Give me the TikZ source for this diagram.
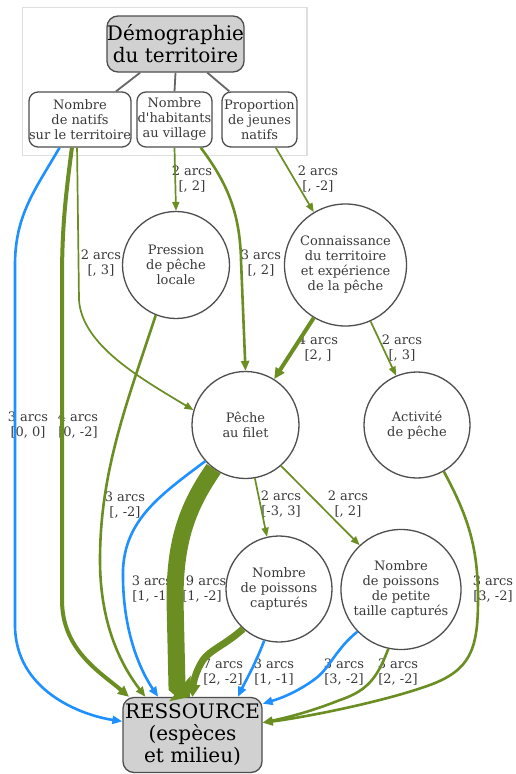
\documentclass[tikz,border=0pt]{standalone}
\usepackage{fontspec}
\setmainfont{DejaVu Serif}[Ligatures=TeXOff]
\usetikzlibrary{arrows.meta}
\definecolor{gr}{HTML}{6B8E23}
\definecolor{bl}{HTML}{1E90FF}
\definecolor{txt}{HTML}{3A3A3A}
\tikzset{
  small/.style={font=\fontsize{13}{15}\selectfont},
  big/.style={font=\fontsize{20}{22}\selectfont},
  rbox/.style={draw=txt!90, line width=1.3pt, rounded corners=9pt, align=center, inner sep=0pt, text=txt, small},
  gbox/.style={draw=txt!90, line width=1.3pt, rounded corners=11pt, align=center, inner sep=0pt, fill=black!18, text=black, big},
  circ/.style={circle, draw=txt!90, line width=1.3pt, align=center, inner sep=0pt, text=txt, small},
  lbl/.style={align=center, inner sep=0pt, text=txt, small},
  link/.style={draw=black!60, line width=1.8pt},
  e2/.style={line width=1.7pt, -{Triangle[length=9pt,width=7pt]}},
  e3/.style={line width=2.6pt, -{Triangle[length=10pt,width=8pt]}},
  e4/.style={line width=4pt, -{Triangle[length=11pt,width=10pt]}},
  e7/.style={line width=7pt, -{Triangle[length=12pt,width=14pt]}},
  e19/.style={line width=17pt, -{Triangle[length=13pt,width=33pt]}},
}
\begin{document}
\begin{tikzpicture}[x=1pt,y=-1pt]
\useasboundingbox (0,0) rectangle (516,774);
\fill[white] (0,0) rectangle (516,774);
% cluster
\draw[black!13, line width=1.5pt] (22.5,7.5) rectangle (307,155.5);
% nodes
\node[gbox, minimum width=133pt, minimum height=56pt] (demo) at (175.5,44) {Démographie\\du territoire};
\node[rbox, minimum width=96pt, minimum height=55pt] (natifs) at (80,119.5) {Nombre\\de natifs\\sur le territoire};
\node[rbox, minimum width=75pt, minimum height=55pt] (hab) at (174.5,119.5) {Nombre\\d'habitants\\au village};
\node[rbox, minimum width=75pt, minimum height=55pt] (prop) at (259.5,119.5) {Proportion\\de jeunes\\natifs};
\node[circ, minimum size=107pt] (press) at (176,265) {Pression\\de pêche\\locale};
\node[circ, minimum size=122pt] (conn) at (345.5,265) {Connaissance\\du territoire\\et expérience\\de la pêche};
\node[circ, minimum size=107pt] (peche) at (245.5,425) {Pêche\\au filet};
\node[circ, minimum size=106pt] (activ) at (417,425) {Activité\\de pêche};
\node[circ, minimum size=106pt] (capt) at (279,589) {Nombre\\de poissons\\capturés};
\node[circ, minimum size=120pt] (petit) at (401,589.5) {Nombre\\de poissons\\de petite\\taille capturés};
\node[gbox, minimum width=139pt, minimum height=75pt] (res) at (192.5,735) {RESSOURCE\\(espèces\\et milieu)};
% cluster links
\draw[link] (demo.-141.7) -- (natifs.38.2);
\draw[link] (demo.south) -- (hab.north);
\draw[link] (demo.-42.6) -- (prop.137);
% labels
\node[lbl] (l1) at (28,425) {3 arcs\\{[0, 0]}};
\node[lbl] (l2) at (78,425) {4 arcs\\{[0, -2]}};
\node[lbl] (l3) at (101,263) {2 arcs\\{[, 3]}};
\node[lbl] (l4) at (125,505) {3 arcs\\{[, -2]}};
\node[lbl] (l5) at (192,179) {2 arcs\\{[, 2]}};
\node[lbl] (l6) at (261,263) {3 arcs\\{[, 2]}};
\node[lbl] (l7) at (318,179) {2 arcs\\{[, -2]}};
\node[lbl] (l8) at (318,348) {4 arcs\\{[2, ]}};
\node[lbl] (l9) at (402,348) {2 arcs\\{[, 3]}};
\node[lbl] (l10) at (281,504) {2 arcs\\{[-3, 3]}};
\node[lbl] (l11) at (348,504) {2 arcs\\{[, 2]}};
\node[lbl] (l12) at (152,589) {3 arcs\\{[1, -1]}};
\node[lbl] (l13) at (202,589) {19 arcs\\{[1, -2]}};
\node[lbl] (l14) at (223,672) {7 arcs\\{[2, -2]}};
\node[lbl] (l15) at (274,672) {3 arcs\\{[1, -1]}};
\node[lbl] (l16) at (344,672) {3 arcs\\{[3, -2]}};
\node[lbl] (l17) at (398,672) {3 arcs\\{[2, -2]}};
\node[lbl] (l18) at (493,589) {3 arcs\\{[3, -2]}};
% edges
\draw[bl, e3] (natifs.-126) .. controls (35,190) and (15,215) .. (15,265) -- (15,625) .. controls (15,690) and (80,715) .. (res.169.4);
\draw[gr, e4] (natifs.-106) .. controls (65,200) and (62,230) .. (62,280) -- (62,600) .. controls (62,650) and (100,672) .. (res.149);
\draw[gr, e2] (natifs.-96) -- (79,300) .. controls (82,345) and (140,378) .. (peche.164);
\draw[gr, e3] (press.-112) .. controls (128,400) and (100,470) .. (100,560) .. controls (100,630) and (125,670) .. (res.141.7);
\draw[gr, e2] (hab.south) -- (press.north);
\draw[gr, e3] (hab.-47) .. controls (225,180) and (240,210) .. (241,260) -- (peche.north);
\draw[gr, e2] (prop.-60.6) -- (conn.121.5);
\draw[gr, e4] (conn.-121.5) -- (peche.58.6);
\draw[gr, e2] (conn.-66.4) -- (activ.113.5);
\draw[gr, e2] (peche.-80) -- (capt.103);
\draw[gr, e2] (peche.-49.7) -- (petit.133.3);
\draw[bl, e3] (peche.-138) .. controls (160,495) and (125,520) .. (123,570) .. controls (122,630) and (140,670) .. (res.132.6);
\draw[gr, e19] (peche.-126.7) .. controls (185,510) and (175,545) .. (175,600) -- (177,686) -- (res.94.5);
\draw[gr, e7] (capt.-132) .. controls (225,645) and (210,650) .. (203,660) .. controls (195,672) and (193,685) .. (res.north);
\draw[bl, e3] (capt.-106.8) .. controls (255,665) and (245,682) .. (res.40);
\draw[bl, e3] (petit.-136.7) .. controls (335,650) and (330,668) .. (315,679) .. controls (300,690) and (285,697) .. (res.24.7);
\draw[gr, e3] (petit.-102.5) .. controls (378,675) and (370,690) .. (340,700) .. controls (310,712) and (285,718) .. (res.10.6);
\draw[gr, e3] (activ.-60.8) .. controls (470,520) and (478,550) .. (478,600) .. controls (478,650) and (470,670) .. (430,685) .. controls (380,703) and (300,718) .. (res.10.6);
\end{tikzpicture}
\end{document}
